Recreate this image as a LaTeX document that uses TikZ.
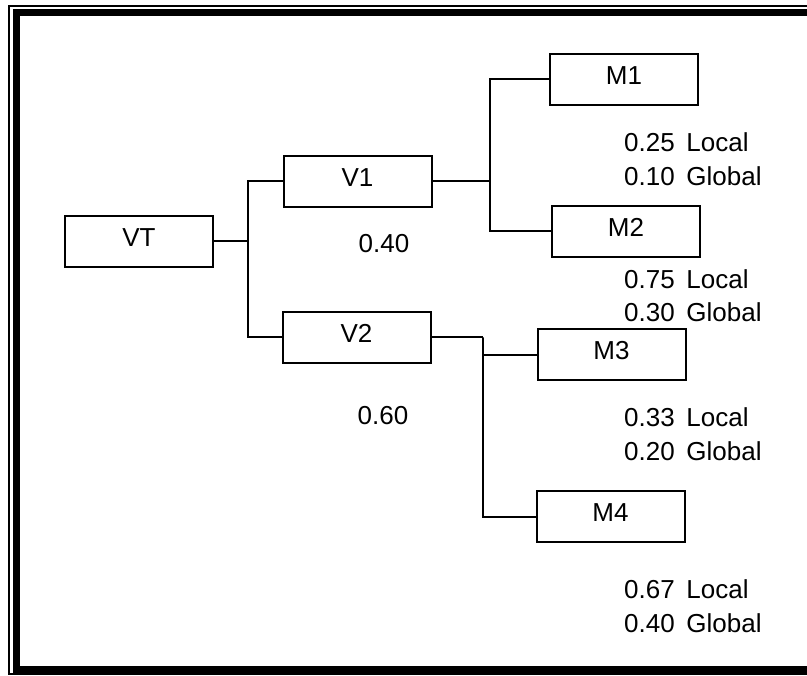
\documentclass[tikz,border=0pt]{standalone}
\usepackage{fontspec}
\setmainfont{Liberation Sans}
\begin{document}
\begin{tikzpicture}[x=1pt,y=-1pt,
  box/.style={draw,line width=2pt,minimum width=148pt,minimum height=51pt,inner sep=0pt,
    text height=19pt,text depth=9pt,font=\fontsize{26}{30}\selectfont},
  conn/.style={line width=2pt},
  lbl/.style={inner sep=0pt,anchor=base west,font=\fontsize{26}{30}\selectfont},
  wt/.style={inner sep=0pt,font=\fontsize{26}{30}\selectfont}]
\useasboundingbox (0,0) rectangle (807,676);
\clip (0,0) rectangle (807,676);
% frame
\draw[line width=1.5pt] (9,6) rectangle (830,674);
\draw[line width=7pt] (16,13) rectangle (830,669);
% boxes
\node[box] (VT) at (139,241.5) {VT};
\node[box] (V1) at (357.5,181.5) {V1};
\node[box] (V2) at (356.5,337.5) {V2};
\node[box] (M1) at (624,79.5) {M1};
\node[box] (M2) at (626,231.5) {M2};
\node[box] (M3) at (611.5,355) {M3};
\node[box] (M4) at (610.5,517) {M4};
% junctions
\coordinate (j1) at (248,241.5);
\coordinate (j2) at (490,181.5);
\coordinate (j3) at (483,337.5);
\draw[conn] (VT.east) -- (j1);
\draw[conn] (V1.west) -| (j1) |- (V2.west);
\draw[conn] (V1.east) -- (j2);
\draw[conn] (M1.west) -| (j2) |- (M2.west);
\draw[conn] (V2.east) -- (j3);
\draw[conn] (M3.west) -| (j3) |- (M4.west);
% weights
\node[wt] (w1) at (384,244) {0.40};
\node[wt] (w2) at (383,416) {0.60};
\node[lbl] (l1) at (624,152) {0.25\hspace{0.45em}Local};
\node[lbl] (g1) at (624,186) {0.10\hspace{0.45em}Global};
\node[lbl] (l2) at (624,289) {0.75\hspace{0.45em}Local};
\node[lbl] (g2) at (624,322) {0.30\hspace{0.45em}Global};
\node[lbl] (l3) at (624,427) {0.33\hspace{0.45em}Local};
\node[lbl] (g3) at (624,461) {0.20\hspace{0.45em}Global};
\node[lbl] (l4) at (624,598) {0.67\hspace{0.45em}Local};
\node[lbl] (g4) at (624,632) {0.40\hspace{0.45em}Global};
\end{tikzpicture}
\end{document}
